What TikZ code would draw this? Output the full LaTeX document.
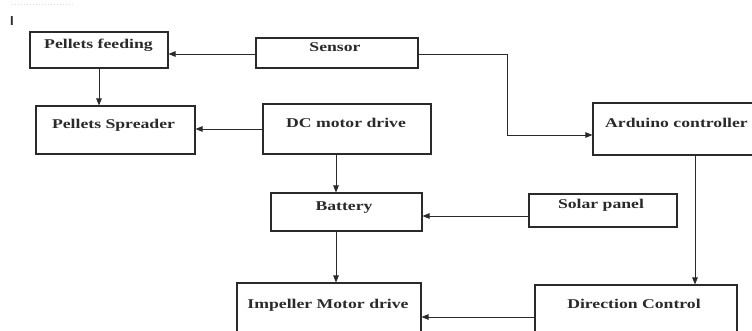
\documentclass[tikz,border=0pt]{standalone}
\usepackage{fontspec}
\setmainfont{Liberation Serif}[FakeStretch=1.32]
\newfontfamily\marksans{Liberation Sans}
\usetikzlibrary{arrows.meta}
\definecolor{ink}{HTML}{2A2A2A}
\tikzset{
  blk/.style={draw=ink, line width=1.1pt, rectangle, inner sep=0pt, fill=white},
  lbl/.style={anchor=base, inner sep=0pt, text=ink, font=\fontsize{13.4}{15}\selectfont\bfseries},
  conn/.style={draw=ink, line width=0.9pt, -{Triangle[length=7pt,width=5.5pt]}},
}
\begin{document}
\begin{tikzpicture}[x=1pt,y=-1pt]
\useasboundingbox (0,0) rectangle (752,331);
\clip (0,0) rectangle (752,331);
\fill[white] (0,0) rectangle (752,331);
% faint mark at top-left
\draw[gray!25, line width=1pt, dotted] (12,5) -- (73,5);
\node[inner sep=0pt, text=ink, font=\marksans\bfseries\fontsize{13}{13}\selectfont] (mark) at (12,21.5) {I};
% boxes
\node[blk, minimum width=138pt, minimum height=36pt] (feed) at (99,50) {};
\node[blk, minimum width=159pt, minimum height=48pt] (spread) at (115.5,130) {};
\node[blk, minimum width=162pt, minimum height=30pt] (sensor) at (337,53) {};
\node[blk, minimum width=168pt, minimum height=50pt] (dc) at (347,129) {};
\node[blk, minimum width=167pt, minimum height=52pt] (ard) at (676.5,129) {};
\node[blk, minimum width=151pt, minimum height=38pt] (bat) at (346.5,212) {};
\node[blk, minimum width=148pt, minimum height=33pt] (solar) at (603,210.5) {};
\node[blk, minimum width=184pt, minimum height=60pt] (imp) at (329,313) {};
\node[blk, minimum width=202pt, minimum height=60pt] (dir) at (636,315) {};
% labels
\node[lbl] (tfeed) at (98.5,48.3) {Pellets feeding};
\node[lbl] (tspread) at (113.5,129) {Pellets Spreader};
\node[lbl] (tsensor) at (335,52) {Sensor};
\node[lbl] (tdc) at (346,128) {DC motor drive};
\node[lbl] (tard) at (676.5,128) {Arduino controller};
\node[lbl] (tbat) at (344,211) {Battery};
\node[lbl] (tsolar) at (601,208) {Solar panel};
\node[lbl] (timp) at (328,308) {Impeller Motor drive};
\node[lbl] (tdir) at (634,308) {Direction Control};
% connectors
\draw[conn] ([yshift=-1pt]sensor.west) -- ([yshift=-1pt]sensor.west -| feed.east);
\draw[conn] ([xshift=0pt]feed.south) -- (feed.south |- spread.north);
\draw[conn] (dc.west) -- (dc.west -| spread.east);
\coordinate (bend) at (507,54);
\draw[conn] ([yshift=-1pt]sensor.east) -- (bend) |- ([yshift=-6pt]ard.west);
\draw[conn] ([xshift=-11pt]dc.south) -- ([xshift=-11pt]dc.south |- bat.north);
\draw[conn] ([yshift=-5.5pt]solar.west) -- ([yshift=-5.5pt]solar.west -| bat.east);
\draw[conn] ([xshift=-10.5pt]bat.south) -- ([xshift=-10.5pt]bat.south |- imp.north);
\draw[conn] ([xshift=18.5pt]ard.south) -- ([xshift=18.5pt]ard.south |- dir.north);
\draw[conn] ([yshift=-2pt]dir.west) -- ([yshift=-2pt]dir.west -| imp.east);
\end{tikzpicture}
\end{document}
